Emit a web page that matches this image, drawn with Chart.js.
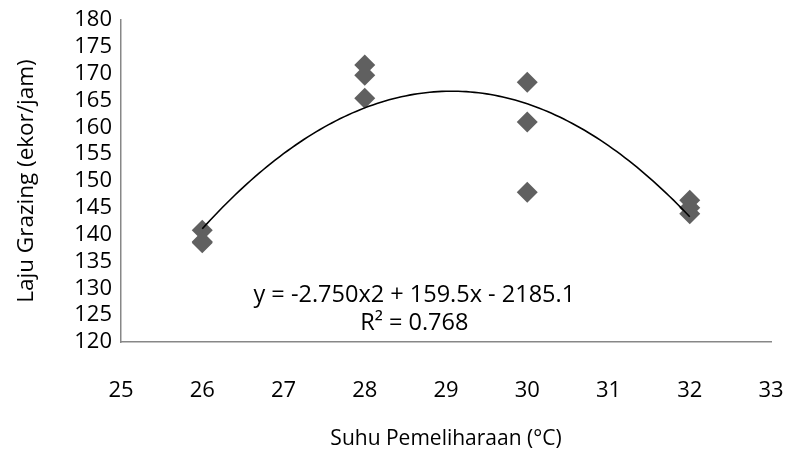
<!DOCTYPE html>
<html>
<head>
<meta charset="utf-8">
<script src="https://cdn.jsdelivr.net/npm/chart.js@4/dist/chart.umd.min.js"></script>
<style>
  html, body { margin: 0; padding: 0; background: #fff; }
  #wrap { width: 787px; height: 450px; position: relative; }
</style>
</head>
<body>
<div id="wrap"><canvas id="grazingChart"></canvas></div>
<script>
const suhu = [26, 26, 26, 28, 28, 28, 30, 30, 30, 32, 32, 32];
const lajuGrazing = [140.8, 138.7, 138.5, 171.6, 169.7, 165.4, 168.4, 161.0, 147.9, 146.4, 145.0, 143.9];

const xTicks = [25, 26, 27, 28, 29, 30, 31, 32, 33];
const yTicks = [120, 125, 130, 135, 140, 145, 150, 155, 160, 165, 170, 175, 180];

const equationText = 'y = -2.750x2 + 159.5x - 2185.1';
const r2Text = 'R² = 0.768';

const FONT = "'Open Sans', sans-serif";
const TEXT_COLOR = '#000';

// least squares quadratic through the observations (Excel polynomial trendline)
function fitQuadratic(xs, ys) {
    let s = [0, 0, 0, 0, 0], t = [0, 0, 0];
    for (let i = 0; i < xs.length; i++) {
        let p = 1;
        for (let k = 0; k < 5; k++) { s[k] += p; if (k < 3) t[k] += p * ys[i]; p *= xs[i]; }
    }
    const m = [[s[0], s[1], s[2], t[0]], [s[1], s[2], s[3], t[1]], [s[2], s[3], s[4], t[2]]];
    for (let c = 0; c < 3; c++) {
        for (let r = c + 1; r < 3; r++) {
            const f = m[r][c] / m[c][c];
            for (let k = c; k < 4; k++) m[r][k] -= f * m[c][k];
        }
    }
    const coef = [0, 0, 0];
    for (let r = 2; r >= 0; r--) {
        let v = m[r][3];
        for (let k = r + 1; k < 3; k++) v -= m[r][k] * coef[k];
        coef[r] = v / m[r][r];
    }
    return coef; // c0 + c1 x + c2 x^2
}

const coef = fitQuadratic(suhu, lajuGrazing);
const xMin = Math.min(...suhu), xMax = Math.max(...suhu);
const trend = [];
for (let i = 0; i <= 120; i++) {
    const x = xMin + (xMax - xMin) * i / 120;
    trend.push({ x: x, y: coef[0] + coef[1] * x + coef[2] * x * x });
}

const points = suhu.map((x, i) => ({ x: x, y: lajuGrazing[i] }));

const equationLabel = {
    id: 'equationLabel',
    afterDraw(chart) {
        const ctx = chart.ctx;
        const xs = chart.scales.x;
        const cx = xs.getPixelForValue(28.61);
        ctx.save();
        ctx.fillStyle = TEXT_COLOR;
        ctx.font = '23.5px ' + FONT;
        ctx.textAlign = 'center';
        ctx.textBaseline = 'middle';
        ctx.fillText(equationText, cx, chart.chartArea.bottom - 47);
        ctx.fillText(r2Text, cx, chart.chartArea.bottom - 19);
        ctx.restore();
    }
};

new Chart(document.getElementById('grazingChart'), {
    type: 'scatter',
    data: {
        datasets: [{
            label: 'Laju Grazing',
            data: points,
            pointStyle: 'rectRot',
            pointRadius: 10.5,
            pointHoverRadius: 10.5,
            backgroundColor: '#606060',
            borderColor: '#606060',
            borderWidth: 0,
            order: 2
        }, {
            type: 'line',
            label: 'Poly.',
            data: trend,
            borderColor: '#000',
            borderWidth: 1.6,
            pointRadius: 0,
            fill: false,
            tension: 0,
            order: 1
        }]
    },
    options: {
        responsive: true,
        maintainAspectRatio: false,
        animation: false,
        layout: { padding: { top: 20, right: 16, left: 0, bottom: 0 } },
        plugins: {
            legend: { display: false },
            tooltip: { enabled: false }
        },
        scales: {
            x: {
                type: 'linear',
                min: xTicks[0],
                max: xTicks[xTicks.length - 1],
                afterBuildTicks: (scale) => { scale.ticks = xTicks.map(v => ({ value: v })); },
                afterFit: (scale) => {
                    scale.height = 108;
                    scale.paddingLeft = 0;
                    scale.paddingRight = 0;
                },
                grid: { display: false, drawTicks: false },
                border: { display: true, color: '#878787', width: 1.5 },
                ticks: {
                    color: TEXT_COLOR, font: { family: FONT, size: 22 },
                    padding: 36, maxRotation: 0, autoSkip: false
                },
                title: {
                    display: true,
                    text: 'Suhu Pemeliharaan (°C)',
                    color: TEXT_COLOR,
                    font: { family: FONT, size: 21 },
                    padding: { top: 0, bottom: -2 }
                }
            },
            y: {
                type: 'linear',
                min: yTicks[0],
                max: yTicks[yTicks.length - 1],
                afterBuildTicks: (scale) => { scale.ticks = yTicks.map(v => ({ value: v })); },
                afterFit: (scale) => {
                    scale.width = 121;
                    scale.paddingTop = 0;
                    scale.paddingBottom = 0;
                },
                grid: { display: false, drawTicks: false },
                border: { display: true, color: '#878787', width: 1.5 },
                ticks: {
                    color: TEXT_COLOR, font: { family: FONT, size: 22 },
                    padding: 9, autoSkip: false
                },
                title: {
                    display: true,
                    text: 'Laju Grazing (ekor/jam)',
                    color: TEXT_COLOR,
                    font: { family: FONT, size: 22.5 },
                    padding: { top: 13, bottom: 0 }
                }
            }
        }
    },
    plugins: [equationLabel]
});
</script>
</body>
</html>
